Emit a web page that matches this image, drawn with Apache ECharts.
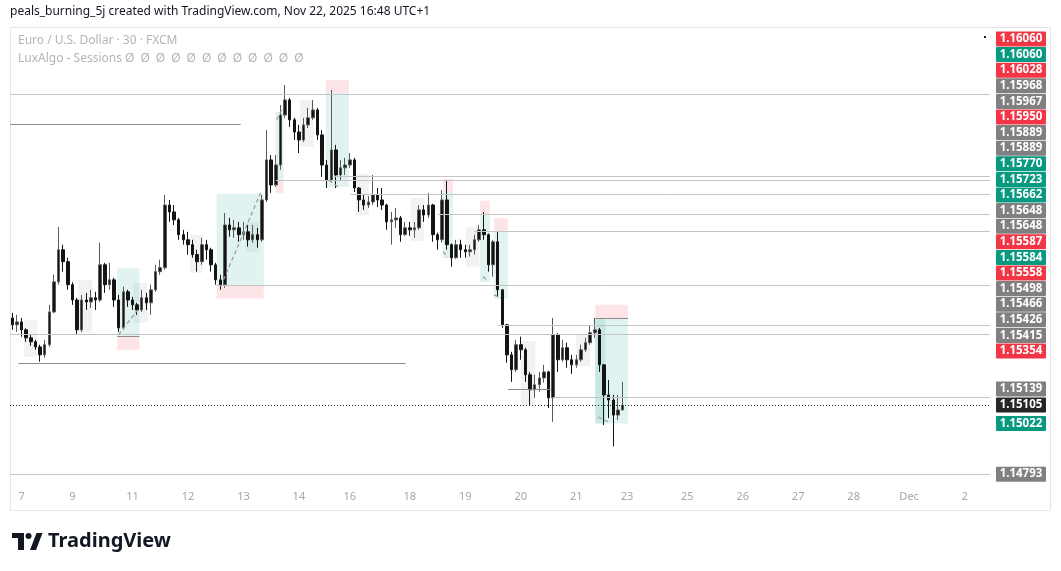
<!DOCTYPE html>
<html><head><meta charset="utf-8">
<script src="https://cdn.jsdelivr.net/npm/echarts@6.0.0/dist/echarts.min.js"></script>
<style>html,body{margin:0;padding:0;background:#fff}#c{width:1061px;height:571px}</style>
</head><body><div id="c"></div>
<script>
// ---- time slots (2-hour candles, weekends collapsed like TradingView) ----
const dayNames = ['Nov 6','Nov 7','Nov 9','Nov 10','Nov 11','Nov 12','Nov 13','Nov 14','Nov 16','Nov 17','Nov 18','Nov 19','Nov 20','Nov 21','Nov 23','Nov 24','Nov 25','Nov 26','Nov 27','Nov 28','Nov 30','Dec 1','Dec 2'];
const dayKinds = ['x','f','s','d','d','d','d','f','s','d','d','d','d','f','s','d','d','d','d','f','s','d','p'];
const kindHours = {x:[20,22], f:[0,2,4,6,8,10,12,14,16,18,20], s:[22], d:[0,2,4,6,8,10,12,14,16,18,20,22], p:[0,2,4,6,8,10]};
const categories = [];
dayNames.forEach((d,i)=>kindHours[dayKinds[i]].forEach(h=>categories.push(d+' '+String(h).padStart(2,'0')+':00')));

const tickIdx  = [2,13,26,38,50,62,73,86,98,110,122,133,146,158,170,182,194,206];
const tickText = ['7','9','11','12','13','14','16','18','19','20','21','23','25','26','27','28','Dec','2'];

// ---- EUR/USD candles [open, close, low, high] ----
const candles = [
[1.15499,1.15468,1.15445,1.15522],[1.15468,1.15481,1.15436,1.15513],[1.15481,1.15445,1.15414,1.15499],[1.15445,1.15409,1.15391,1.15452],
[1.15409,1.15391,1.15373,1.15423],[1.15391,1.15368,1.15355,1.15400],[1.15368,1.15332,1.15301,1.15378],[1.15332,1.15378,1.15319,1.15400],
[1.15378,1.15526,1.15368,1.15558],[1.15526,1.15662,1.15520,1.15694],[1.15662,1.15807,1.15649,1.15910],[1.15807,1.15753,1.15708,1.15830],
[1.15753,1.15649,1.15626,1.15771],[1.15649,1.15580,1.15558,1.15660],[1.15580,1.15445,1.15423,1.15590],[1.15445,1.15580,1.15436,1.15603],
[1.15580,1.15571,1.15535,1.15612],[1.15571,1.15590,1.15544,1.15626],[1.15590,1.15580,1.15535,1.15617],[1.15580,1.15739,1.15571,1.15839],
[1.15739,1.15649,1.15612,1.15748],[1.15649,1.15671,1.15626,1.15748],[1.15671,1.15580,1.15549,1.15680],[1.15580,1.15454,1.15436,1.15603],
[1.15454,1.15617,1.15445,1.15640],[1.15617,1.15580,1.15549,1.15626],[1.15580,1.15558,1.15535,1.15594],[1.15558,1.15535,1.15513,1.15567],
[1.15535,1.15590,1.15526,1.15626],[1.15590,1.15567,1.15535,1.15612],[1.15567,1.15626,1.15513,1.15649],[1.15626,1.15708,1.15617,1.15739],
[1.15708,1.15726,1.15694,1.15762],[1.15726,1.16009,1.15717,1.16055],[1.16009,1.15978,1.15933,1.16032],[1.15978,1.15942,1.15919,1.16009],
[1.15942,1.15875,1.15852,1.15951],[1.15875,1.15852,1.15830,1.15897],[1.15852,1.15830,1.15785,1.15888],[1.15830,1.15785,1.15771,1.15852],
[1.15785,1.15753,1.15708,1.15807],[1.15753,1.15830,1.15739,1.15861],[1.15830,1.15807,1.15762,1.15852],[1.15807,1.15739,1.15708,1.15816],
[1.15739,1.15671,1.15649,1.15748],[1.15671,1.15649,1.15626,1.15694],[1.15649,1.15919,1.15635,1.15973],[1.15919,1.15897,1.15866,1.15951],
[1.15897,1.15906,1.15861,1.15942],[1.15906,1.15875,1.15843,1.15933],[1.15875,1.15888,1.15852,1.15933],[1.15888,1.15852,1.15821,1.15919],
[1.15852,1.15875,1.15839,1.15919],[1.15875,1.15852,1.15816,1.15906],[1.15852,1.16032,1.15843,1.16055],[1.16032,1.16213,1.16023,1.16348],
[1.16213,1.16100,1.16064,1.16235],[1.16100,1.16190,1.16091,1.16235],[1.16190,1.16416,1.16168,1.16461],[1.16416,1.16484,1.16403,1.16552],
[1.16484,1.16394,1.16362,1.16493],[1.16394,1.16339,1.16303,1.16403],[1.16339,1.16303,1.16244,1.16371],[1.16303,1.16371,1.16294,1.16403],
[1.16371,1.16403,1.16357,1.16448],[1.16403,1.16439,1.16394,1.16484],[1.16439,1.16326,1.16303,1.16448],[1.16326,1.16190,1.16136,1.16348],
[1.16190,1.16122,1.16086,1.16213],[1.16122,1.16258,1.16113,1.16529],[1.16258,1.16145,1.16086,1.16281],[1.16145,1.16177,1.16122,1.16213],
[1.16177,1.16190,1.16145,1.16222],[1.16190,1.16213,1.16177,1.16244],[1.16213,1.16086,1.16068,1.16222],[1.16086,1.16032,1.15978,1.16090],
[1.16032,1.16009,1.15987,1.16055],[1.16009,1.16023,1.15996,1.16050],[1.16023,1.16055,1.16009,1.16145],[1.16055,1.16032,1.16000,1.16086],
[1.16032,1.16009,1.15987,1.16086],[1.16009,1.15933,1.15897,1.16015],[1.15933,1.15942,1.15830,1.15978],[1.15942,1.15951,1.15906,1.15996],
[1.15951,1.15875,1.15843,1.15960],[1.15875,1.15906,1.15870,1.15933],[1.15906,1.15897,1.15870,1.15933],[1.15897,1.15906,1.15861,1.15933],
[1.15906,1.15987,1.15897,1.16009],[1.15987,1.15964,1.15933,1.16009],[1.15964,1.16009,1.15951,1.16064],[1.16009,1.15875,1.15843,1.16015],
[1.15875,1.15852,1.15807,1.15884],[1.15852,1.16032,1.15839,1.16077],[1.16032,1.15830,1.15807,1.16122],[1.15830,1.15771,1.15730,1.15835],
[1.15771,1.15830,1.15766,1.15852],[1.15830,1.15807,1.15771,1.15852],[1.15807,1.15798,1.15771,1.15830],[1.15798,1.15807,1.15776,1.15830],
[1.15807,1.15852,1.15785,1.15875],[1.15852,1.15897,1.15843,1.15919],[1.15897,1.15875,1.15852,1.15978],[1.15875,1.15739,1.15708,1.15880],
[1.15739,1.15843,1.15685,1.15852],[1.15843,1.15626,1.15594,1.15888],[1.15626,1.15468,1.15454,1.15630],[1.15468,1.15332,1.15296,1.15472],
[1.15332,1.15265,1.15210,1.15346],[1.15265,1.15378,1.15255,1.15400],[1.15378,1.15355,1.15310,1.15414],[1.15355,1.15242,1.15210,1.15364],
[1.15242,1.15174,1.15105,1.15255],[1.15174,1.15197,1.15138,1.15242],[1.15197,1.15228,1.15165,1.15255],[1.15228,1.15255,1.15206,1.15287],
[1.15255,1.15138,1.15092,1.15260],[1.15138,1.15423,1.15029,1.15499],[1.15423,1.15310,1.15255,1.15430],[1.15310,1.15364,1.15301,1.15400],
[1.15364,1.15310,1.15274,1.15387],[1.15310,1.15287,1.15246,1.15332],[1.15287,1.15310,1.15274,1.15332],[1.15310,1.15355,1.15301,1.15378],
[1.15355,1.15387,1.15346,1.15409],[1.15387,1.15432,1.15378,1.15468],[1.15432,1.15445,1.15409,1.15499],[1.15445,1.15287,1.15255,1.15454],
[1.15287,1.15151,1.15015,1.15290],[1.15151,1.15128,1.15046,1.15219],[1.15128,1.15060,1.14918,1.15151],[1.15060,1.15083,1.15038,1.15151],
[1.15083,1.15105,1.15083,1.15210]
];

// ---- LuxAlgo session boxes: [fromSlot, toSlot, topPrice, bottomPrice, kind] ----
const boxes = [
[2.5,5.4,1.15490,1.15323,'g'],[14.3,17.3,1.15671,1.15432,'g'],
[22.7,27.5,1.15723,1.15415,'up'],[22.7,27.5,1.15415,1.15354,'dn'],[26.2,29.3,1.15657,1.15477,'g'],
[38.4,41.2,1.15874,1.15702,'g'],
[44.2,54.4,1.16060,1.15648,'up'],[44.2,54.4,1.15648,1.15587,'dn'],[50.5,53.3,1.15933,1.15797,'g'],
[57.0,58.7,1.16430,1.16122,'up'],[57.0,58.7,1.16122,1.16064,'dn'],
[62.2,65.2,1.16484,1.16272,'g'],
[67.8,72.8,1.16516,1.16091,'up'],[67.8,72.8,1.16574,1.16516,'dn'],
[74.3,77.1,1.16150,1.15964,'g'],[86.2,89.0,1.16041,1.15847,'g'],
[93.2,95.3,1.16068,1.15770,'up'],[93.2,95.3,1.16127,1.16068,'dn'],
[98.1,101.0,1.15910,1.15730,'g'],
[101.2,103.3,1.15968,1.15662,'up'],[101.2,103.3,1.16028,1.15968,'dn'],
[104.2,107.2,1.15889,1.15584,'up'],[104.2,107.2,1.15950,1.15889,'dn'],
[110.0,113.1,1.15395,1.15105,'g'],[121.9,125.0,1.15423,1.15282,'g'],
[126.1,133.2,1.15498,1.15022,'up'],[126.1,128.3,1.15498,1.15022,'up'],[126.1,133.2,1.15558,1.15498,'dn']
];
// ---- horizontal levels: [fromSlot, toSlot, price, kind] ----
const levels = [
[-0.5,211.5,1.16511,'l'],[-0.5,49.4,1.16376,'d'],[69.6,211.5,1.16141,'l'],[57.0,211.5,1.16122,'l'],
[73.2,211.5,1.16060,'l'],[92.1,211.5,1.15968,'l'],[99.9,211.5,1.15889,'l'],[44.2,211.5,1.15648,'l'],
[126.1,133.2,1.15498,'d'],[105.1,211.5,1.15466,'l'],[-0.5,211.5,1.15426,'l'],[22.7,27.5,1.15415,'d'],
[1.3,85.1,1.15296,'d'],[107.2,116.5,1.15178,'d'],[117.0,211.5,1.15139,'l'],[-0.5,211.5,1.14793,'l']
];
// ---- session trend dashes: [fromSlot, fromPrice, toSlot, toPrice] ----
const dashes = [
[23.0,1.15423,27.1,1.15535],[45.7,1.15671,53.7,1.16064],[57.2,1.16394,58.5,1.16448],[68.5,1.16122,70.4,1.16091],
[93.2,1.15798,94.2,1.15771],[101.8,1.15685,102.9,1.15667],[104.2,1.15603,105.7,1.15590],[126.7,1.15051,128.9,1.15029]
];
const lastPrice = 1.15105;

// ---- right-hand price labels ----
const stackLabels = ['1.16060','1.16060','1.16028','1.15968','1.15967','1.15950','1.15889','1.15889','1.15770','1.15723','1.15662','1.15648','1.15648','1.15587','1.15584','1.15558','1.15498','1.15466','1.15426','1.15415','1.15354'];
const stackKinds  = ['r','g','r','n','n','r','n','n','g','g','g','n','n','r','g','r','n','n','n','n','r'];
const lowLabels = ['1.15139','1.15105','1.15022','1.14793'];
const lowKinds  = ['n','k','g','n'];

const boxColor = {g:'rgba(120,123,134,0.10)', up:'rgba(8,153,129,0.12)', dn:'rgba(242,54,69,0.13)'};
const lblColor = {r:'#f23645', g:'#089981', n:'#808080', k:'#262626'};

const chart = echarts.init(document.getElementById('c'), null, {renderer:'canvas'});
const yMin = 1.14744, yMax = 1.16809;

const option = {
  animation:false,
  grid:{left:10, top:28, width:980, bottom:86, containLabel:false},
  xAxis:[
    {type:'category', data:categories, boundaryGap:true,
     axisLine:{show:false}, axisTick:{show:false}, splitLine:{show:false},
     axisLabel:{interval:(i)=>tickIdx.indexOf(i)>=0, formatter:(v,i)=>tickText[tickIdx.indexOf(i)],
       color:'#a6a6a6', fontSize:11, margin:6, fontFamily:'Noto Sans'}},
    {type:'value', min:-0.5, max:211.5, show:false}
  ],
  yAxis:[{type:'value', min:yMin, max:yMax, show:false, scale:true}],
  series:[
    {type:'line', xAxisIndex:1, data:[[0,1.155]], symbol:'none', lineStyle:{opacity:0}, silent:true, z:1,
     markArea:{silent:true, data: boxes.map(b=>[{xAxis:b[0], yAxis:b[2], itemStyle:{color:boxColor[b[4]]}},{xAxis:b[1], yAxis:b[3]}])},
     markLine:{silent:true, symbol:['none','none'], label:{show:false}, animation:false,
       data: levels.map(l=>[{coord:[l[0],l[2]], lineStyle:{color:l[3]==='d'?'#8c8c8c':'#c4c4c4', width:1, type:'solid'}},{coord:[l[1],l[2]]}])
         .concat(dashes.map(d=>[{coord:[d[0],d[1]], lineStyle:{color:'#9a9a9a', width:1.2, type:[4,3]}},{coord:[d[2],d[3]]}]))
         .concat([[{coord:[-0.5,lastPrice], lineStyle:{color:'#222', width:1, type:[1,2]}},{coord:[211.5,lastPrice]}]])
     }},
    {type:'candlestick', xAxisIndex:0, data:candles, barWidth:3, z:3,
     itemStyle:{color:'#141414', color0:'#141414', borderColor:'#5a5a5a', borderColor0:'#141414', borderWidth:1}}
  ],
  graphic:[]
};
chart.setOption(option);

// build graphics after layout so label positions can use the price scale
const g = [];
g.push({type:'rect', shape:{x:10.5, y:27.5, width:1040, height:483}, style:{fill:'none', stroke:'#e6e6e6', lineWidth:1}, silent:true, z:0});
g.push({type:'text', x:10, y:12, style:{text:'peals_burning_5j created with TradingView.com, Nov 22, 2025 16:48 UTC+1', fill:'#131722', fontSize:12, fontFamily:'Noto Sans', verticalAlign:'middle'}});
g.push({type:'text', x:18, y:41, style:{text:'Euro / U.S. Dollar · 30 · FXCM', fill:'#b4b4b4', fontSize:12, fontFamily:'Noto Sans', verticalAlign:'middle'}});
g.push({type:'text', x:18, y:59, style:{text:'LuxAlgo - Sessions Ø\u2002Ø\u2002Ø\u2002Ø\u2002Ø\u2002Ø\u2002Ø\u2002Ø\u2002Ø\u2002Ø\u2002Ø\u2002Ø', fill:'#b4b4b4', fontSize:12, fontFamily:'Noto Sans', verticalAlign:'middle'}});
g.push({type:'rect', shape:{x:984, y:36, width:2, height:2}, style:{fill:'#222'}});
function addLabel(txt, kind, yc){
  g.push({type:'rect', shape:{x:996, y:yc-7.5, width:50, height:15, r:1}, style:{fill:lblColor[kind]}, z:10});
  g.push({type:'text', x:1021, y:yc, style:{text:txt, fill:'#fff', fontSize:11.5, fontFamily:'Noto Sans', fontWeight:'bold', align:'center', verticalAlign:'middle'}, z:11});
}
stackLabels.forEach((t,i)=>addLabel(t, stackKinds[i], 39 + i*15.6));
let nextY = Infinity;
const lowY = [];
for (let i=lowLabels.length-1;i>=0;i--){
  const want = chart.convertToPixel({yAxisIndex:0}, parseFloat(lowLabels[i]));
  const y = Math.min(want, nextY - 16);
  lowY[i] = y; nextY = y;
}
lowLabels.forEach((t,i)=>addLabel(t, lowKinds[i], lowY[i]));
// TradingView logo
g.push({type:'rect', shape:{x:12, y:533, width:12, height:5}, style:{fill:'#131722'}});
g.push({type:'rect', shape:{x:18, y:533, width:6, height:17}, style:{fill:'#131722'}});
g.push({type:'circle', shape:{cx:28.5, cy:536, r:3}, style:{fill:'#131722'}});
g.push({type:'polygon', shape:{points:[[30,550],[36,550],[42.5,533],[36.5,533]]}, style:{fill:'#131722'}});
g.push({type:'text', x:48, y:541, style:{text:'TradingView', fill:'#131722', fontSize:20, fontWeight:'bold', fontFamily:'Noto Sans', verticalAlign:'middle'}});
chart.setOption({graphic:g});
</script></body></html>
